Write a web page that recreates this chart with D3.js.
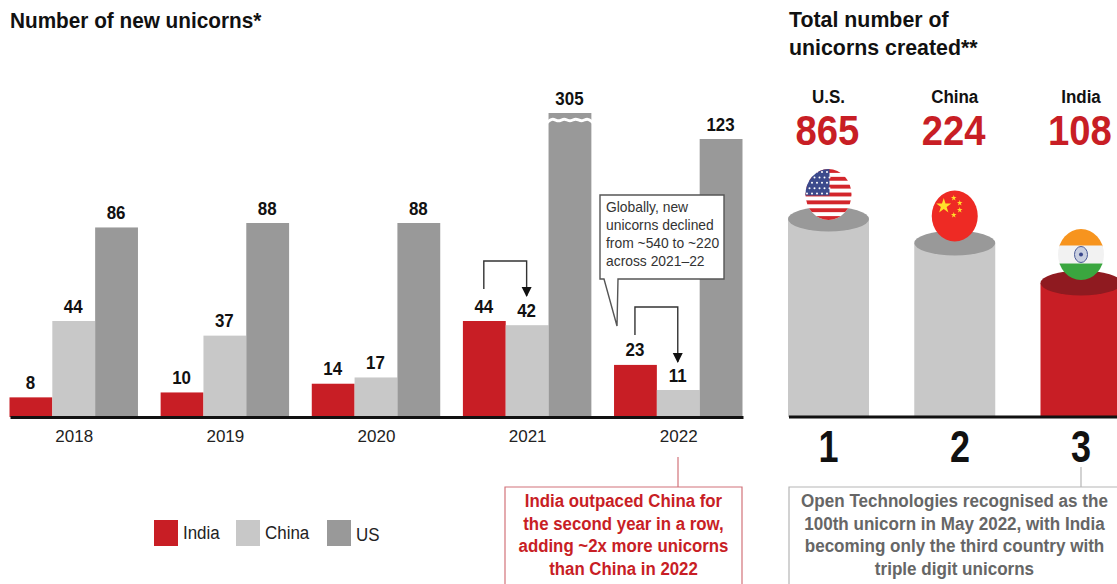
<!DOCTYPE html>
<html>
<head>
<meta charset="utf-8">
<script src="https://cdn.jsdelivr.net/npm/d3@7/dist/d3.min.js"></script>
<style>
html,body{margin:0;padding:0;background:#fff;overflow:hidden}
text{font-family:"Liberation Sans",Arial,sans-serif}
</style>
</head>
<body>
<svg id="chart" width="1117" height="584"></svg>
<script>
// New unicorns per year, by country
const years = ["2018", "2019", "2020", "2021", "2022"];
const seriesNames = ["India", "China", "US"];
const indiaValues = [8, 10, 14, 44, 23];
const chinaValues = [44, 37, 17, 42, 11];
const usValues = [86, 88, 88, 305, 123];
const seriesColors = ["#c81e25", "#c8c8c8", "#999999"];

// Cumulative unicorns by country
const totalCountries = ["U.S.", "China", "India"];
const totalValues = [865, 224, 108];
const totalRanks = ["1", "2", "3"];

const calloutLines = ["Globally, new", "unicorns declined", "from ~540 to ~220", "across 2021\u201322"];
const redNoteLines = ["India outpaced China for", "the second year in a row,", "adding ~2x more unicorns", "than China in 2022"];
const greyNoteLines = ["Open Technologies recognised as the", "100th unicorn in May 2022, with India", "becoming only the third country with", "triple digit unicorns"];

const svg = d3.select("#chart");
const RED = "#c81e25";
const baseY = 417;

// Narrow a label horizontally so the type reads slightly condensed
const squeeze = (sel, k) => sel.each(function () {
  const w = this.getComputedTextLength();
  d3.select(this).attr("textLength", w * k).attr("lengthAdjust", "spacingAndGlyphs");
});

const text = (g, x, y, s, size, opts = {}) => g.append("text")
  .attr("x", x).attr("y", y).text(s)
  .attr("font-size", size)
  .attr("font-weight", opts.weight || "normal")
  .attr("text-anchor", opts.anchor || "start")
  .attr("fill", opts.fill || "#111")
  .call(squeeze, opts.k || 1);

// Titles
const titles = svg.append("g");
text(titles, 10, 28, "Number of new unicorns*", 22, {weight: "bold", k: 0.943});
text(titles, 789, 27, "Total number of", 22, {weight: "bold", k: 0.97});
text(titles, 789, 55, "unicorns created**", 22, {weight: "bold", k: 0.97});

// Scales: the upper segment is compressed because the axis is broken for the 2021 US bar
const x0 = d3.scaleBand().domain(years).range([10, 743]).paddingInner(0.15);
const x1 = d3.scaleBand().domain(seriesNames).range([0, x0.bandwidth()]);
const y = d3.scaleLinear().domain([0, 11, 44, 88, 123, 305]).range([baseY, 390, 321, 223, 139, 113]);

const rows = [indiaValues, chinaValues, usValues];
const barsG = svg.append("g");
seriesNames.forEach((name, si) => {
  const data = years.map((yr, i) => ({yr, v: rows[si][i]}));
  barsG.selectAll(null).data(data).join("rect")
    .attr("x", d => x0(d.yr) + x1(name) - 0.5)
    .attr("y", d => y(d.v))
    .attr("width", x1.bandwidth())
    .attr("height", d => baseY - y(d.v))
    .attr("fill", seriesColors[si]);
  barsG.selectAll(null).data(data).join("text")
    .attr("x", d => x0(d.yr) + x1(name) + x1.bandwidth() / 2 - 1)
    .attr("y", d => y(d.v) - 8.5)
    .attr("text-anchor", "middle")
    .attr("font-size", 19)
    .attr("font-weight", "bold")
    .attr("fill", "#111")
    .text(d => d.v)
    .call(squeeze, 0.89);
});

// Axis-break squiggle across the 2021 US bar
const bx = x0("2021") + x1("US");
const bw = x1.bandwidth();
const breakY = y(305) + 7;
const squiggle = d3.line().curve(d3.curveBasis);
const wave = d3.range(0, 1.0001, 1 / 8).map((t, i) => [bx - 2 + t * (bw + 3), breakY + (i % 2 ? -2.5 : 2.5)]);
barsG.append("path").attr("d", squiggle(wave)).attr("fill", "none").attr("stroke", "#fff").attr("stroke-width", 3);

// Year axis
const axis = svg.append("g").attr("transform", `translate(0,${baseY})`)
  .call(d3.axisBottom(x0).tickSize(0).tickPadding(13));
axis.select(".domain").attr("stroke", "#111").attr("stroke-width", 3);
axis.selectAll("text").attr("font-size", 17).attr("fill", "#222")
  .style("font-family", '"Liberation Sans",Arial,sans-serif');

// Year-on-year bracket arrows
svg.append("defs").append("marker").attr("id", "head")
  .attr("viewBox", "0 0 10 10").attr("refX", 9).attr("refY", 5)
  .attr("markerWidth", 10).attr("markerHeight", 12).attr("markerUnits", "userSpaceOnUse")
  .attr("orient", "auto")
  .append("path").attr("d", "M0,0L10,5L0,10Z").attr("fill", "#111");
const bracket = (yr, top, start, end) => {
  const a = x0(yr) + x1("India") + x1.bandwidth() / 2 - 1;
  const b = x0(yr) + x1("China") + x1.bandwidth() / 2 - 1;
  svg.append("path")
    .attr("d", d3.line()([[a, start], [a, top], [b, top], [b, end]]))
    .attr("fill", "none").attr("stroke", "#333").attr("stroke-width", 1.4)
    .attr("marker-end", "url(#head)");
};
bracket("2021", 261, 289, 296);
bracket("2022", 307, 335, 362);

// Callout with pointer
const call = svg.append("g");
call.append("path")
  .attr("d", d3.line()([[600, 195], [724, 195], [724, 279], [618, 279], [617, 326], [604, 279], [600, 279]]) + "Z")
  .attr("fill", "#fff").attr("stroke", "#555").attr("stroke-width", 1.4);
calloutLines.forEach((s, i) => text(call, 606, 212 + i * 18, s, 14.5, {fill: "#333", k: 0.955}));

// Legend
const legend = svg.append("g");
const legendX = [154, 236, 327];
seriesNames.forEach((name, i) => {
  legend.append("rect").attr("x", legendX[i]).attr("y", 520).attr("width", 24).attr("height", 26).attr("fill", seriesColors[i]);
  text(legend, legendX[i] + 29, i === 2 ? 541 : 539, name, 18, {fill: "#222", k: 0.94});
});

// Notes below the charts
const note = (left, right, centre, stemX, stemTop, color, lines, fill, size, k) => {
  const g = svg.append("g");
  g.append("line").attr("x1", stemX).attr("x2", stemX).attr("y1", stemTop).attr("y2", 487).attr("stroke", color).attr("stroke-width", 1.2);
  g.append("path").attr("d", `M${left},600V487H${right}V600`).attr("fill", "none").attr("stroke", color).attr("stroke-width", 1.2);
  lines.forEach((s, i) => text(g, centre, 507 + i * 22.5, s, size, {anchor: "middle", weight: "bold", fill, k}));
};
note(505, 742, 623.5, 678, 457, "#d2737a", redNoteLines, RED, 18, 0.935);
note(789, 1130, 954.5, 1081, 467, "#b5b5b5", greyNoteLines, "#666", 17.5, 0.975);

// Ranked pillars
const podiumX = d3.scalePoint().domain(totalCountries).range([828.5, 1081]);
const pillarTop = d3.scaleLinear().domain([108, 224, 865]).range([283, 243, 219]);
const pillars = svg.append("g");
const pillarStyle = {"India": ["#c81e25", "#8f1a20"]};
const defs = svg.select("defs");

totalCountries.forEach((c, i) => {
  const cx = podiumX(c);
  const top = pillarTop(totalValues[i]);
  const [body, cap] = pillarStyle[c] || ["#c8c8c8", "#999999"];
  pillars.append("path")
    .attr("d", `M${cx - 40.5},${top}V${baseY}H${cx + 40.5}V${top}Z`)
    .attr("fill", body);
  pillars.append("ellipse").attr("cx", cx).attr("cy", top).attr("rx", 40.5).attr("ry", 12.5).attr("fill", cap);
  text(pillars, cx, 103, c, 17.5, {anchor: "middle", weight: "bold", k: 0.97});
  text(pillars, cx - 1, 145, totalValues[i], 42, {anchor: "middle", weight: "bold", fill: RED, k: 0.91});
  text(pillars, c === "China" ? 960 : cx, 462, totalRanks[i], 45, {anchor: "middle", weight: "bold", k: 0.8});
});
svg.append("line").attr("x1", 789).attr("x2", 1117).attr("y1", baseY).attr("y2", baseY).attr("stroke", "#111").attr("stroke-width", 3);

// Flags, each clipped to a ball resting on its pillar
const ball = (id, cx, cy) => {
  defs.append("clipPath").attr("id", id).append("ellipse")
    .attr("cx", cx).attr("cy", cy).attr("rx", 23).attr("ry", 25.5);
  return svg.append("g").attr("clip-path", `url(#${id})`);
};
const fx = c => podiumX(c);

// United States
{
  const cx = fx("U.S."), cy = pillarTop(865) - 24.5;
  const g = ball("flag-us", cx, cy);
  g.append("rect").attr("x", cx - 24).attr("y", cy - 26).attr("width", 48).attr("height", 52).attr("fill", "#fff");
  d3.range(7).forEach(i => g.append("rect")
    .attr("x", cx - 24).attr("y", cy - 25.5 + i * 7.85).attr("width", 48).attr("height", 3.9).attr("fill", "#d3262c"));
  g.append("rect").attr("x", cx - 24).attr("y", cy - 26).attr("width", 25).attr("height", 27).attr("fill", "#3c4a8c");
  d3.range(5).forEach(r => d3.range(5).forEach(k => g.append("circle")
    .attr("cx", cx - 21.5 + k * 5 + (r % 2 ? 2.5 : 0)).attr("cy", cy - 22.5 + r * 5.4).attr("r", 1).attr("fill", "#fff")));
}

// China
{
  const cx = fx("China"), cy = pillarTop(224) - 27;
  const g = ball("flag-cn", cx, cy);
  g.append("rect").attr("x", cx - 24).attr("y", cy - 26).attr("width", 48).attr("height", 52).attr("fill", "#ee2a24");
  const star = d3.symbol().type(d3.symbolStar);
  g.append("path").attr("d", star.size(70)()).attr("transform", `translate(${cx - 11},${cy - 10})`).attr("fill", "#ffdf2a");
  [[-1, -18], [5, -13], [5, -6], [-1, -1]].forEach(([dx, dy]) => g.append("path")
    .attr("d", star.size(10)()).attr("transform", `translate(${cx + dx},${cy + dy})`).attr("fill", "#ffdf2a"));
}

// India
{
  const cx = fx("India"), cy = pillarTop(108) - 28.5;
  const g = ball("flag-in", cx, cy);
  g.append("rect").attr("x", cx - 24).attr("y", cy - 26).attr("width", 48).attr("height", 18).attr("fill", "#f7941e");
  g.append("rect").attr("x", cx - 24).attr("y", cy - 9).attr("width", 48).attr("height", 18).attr("fill", "#f2f2f2");
  g.append("rect").attr("x", cx - 24).attr("y", cy + 9).attr("width", 48).attr("height", 18).attr("fill", "#3aa63f");
  g.append("ellipse").attr("cx", cx).attr("cy", cy).attr("rx", 6.5).attr("ry", 8).attr("fill", "#c9cfe0").attr("stroke", "#4a5a96").attr("stroke-width", 1);
  g.append("circle").attr("cx", cx).attr("cy", cy).attr("r", 2).attr("fill", "#39468a");
}
</script>
</body>
</html>
